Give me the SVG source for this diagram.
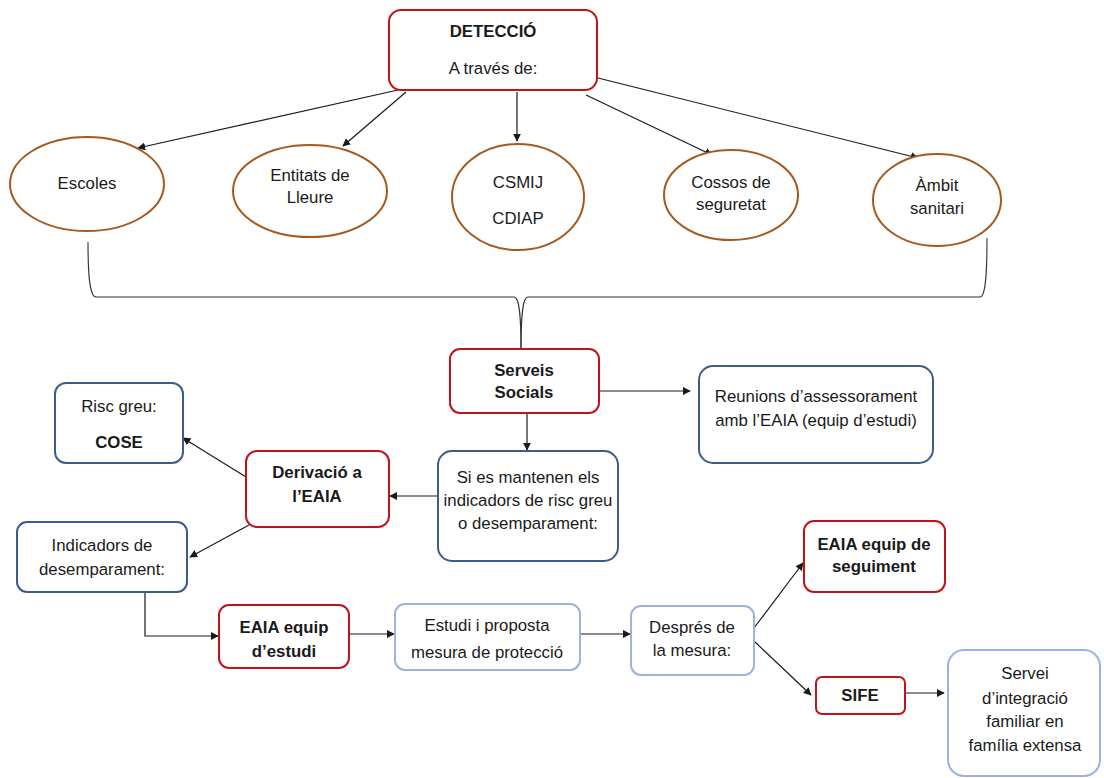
<svg xmlns="http://www.w3.org/2000/svg" width="1104" height="778" viewBox="0 0 1104 778">
  <style>
    text { font-family: "Liberation Sans", Arial, sans-serif; font-size: 16.8px; fill: #1a1a1a; text-anchor: middle; }
    .b { font-weight: bold; }
    .red { fill: #fff; stroke: #C0141C; stroke-width: 2; }
    .blue { fill: #fff; stroke: #3E5B8E; stroke-width: 2; }
    .light { fill: #fff; stroke: #9BB3DD; stroke-width: 2; }
    .oval { fill: #fff; stroke: #A5591F; stroke-width: 2; }
    .edge { fill: none; stroke: #1a1a1a; stroke-width: 1.2; }
    .brace { fill: none; stroke: #333; stroke-width: 1.1; }
  </style>
  <defs>
    <marker id="arrow" viewBox="0 0 10 10" refX="9" refY="5" markerWidth="8" markerHeight="8" markerUnits="userSpaceOnUse" orient="auto">
      <path d="M0,0 L10,5 L0,10 z" fill="#1a1a1a"/>
    </marker>
  </defs>
  <rect width="1104" height="778" fill="#fff"/>

  <!-- connectors -->
  <g id="connectors">
    <line class="edge" x1="398" y1="90" x2="138" y2="148" marker-end="url(#arrow)"/>
    <line class="edge" x1="406" y1="92" x2="343" y2="146" marker-end="url(#arrow)"/>
    <line class="edge" x1="517" y1="92" x2="517" y2="141" marker-end="url(#arrow)"/>
    <line class="edge" x1="586" y1="95" x2="712" y2="155" marker-end="url(#arrow)"/>
    <line class="edge" x1="598" y1="78" x2="918" y2="158" marker-end="url(#arrow)"/>
    <!-- brace gathering the five sources into Serveis Socials -->
    <path class="brace" d="M88,242 C88,270 89,297 96,297 L514,297 C519,297 521,312 521,350"/>
    <path class="brace" d="M521,350 C521,312 523,297 528,297 L980,297 C986,297 987,270 987,238"/>
    <line class="edge" x1="599" y1="391" x2="690" y2="391" marker-end="url(#arrow)"/>
    <line class="edge" x1="527" y1="413" x2="527" y2="450" marker-end="url(#arrow)"/>
    <line class="edge" x1="438" y1="496" x2="390" y2="496" marker-end="url(#arrow)"/>
    <line class="edge" x1="246" y1="477" x2="183" y2="438" marker-end="url(#arrow)"/>
    <line class="edge" x1="249" y1="525" x2="190" y2="557" marker-end="url(#arrow)"/>
    <polyline class="edge" points="145,592 145,636 218,636" marker-end="url(#arrow)"/>
    <line class="edge" x1="349" y1="634" x2="394" y2="634" marker-end="url(#arrow)"/>
    <line class="edge" x1="580" y1="634" x2="630" y2="634" marker-end="url(#arrow)"/>
    <line class="edge" x1="754" y1="628" x2="803" y2="563" marker-end="url(#arrow)"/>
    <line class="edge" x1="754" y1="641" x2="811" y2="695" marker-end="url(#arrow)"/>
    <line class="edge" x1="905" y1="693" x2="944" y2="693" marker-end="url(#arrow)"/>
  </g>

  <g id="deteccio">
    <rect class="red" x="389" y="10" width="208" height="80" rx="12"/>
    <text class="b" x="493" y="37">DETECCIÓ</text>
    <text x="493" y="74">A través de:</text>
  </g>

  <g id="escoles">
    <ellipse class="oval" cx="87" cy="184" rx="77" ry="47"/>
    <text x="87" y="189">Escoles</text>
  </g>
  <g id="entitats">
    <ellipse class="oval" cx="310" cy="191" rx="77" ry="46"/>
    <text x="310" y="181">Entitats de</text>
    <text x="310" y="203">Lleure</text>
  </g>
  <g id="csmij">
    <ellipse class="oval" cx="518" cy="197" rx="66" ry="53"/>
    <text x="518" y="188">CSMIJ</text>
    <text x="518" y="224">CDIAP</text>
  </g>
  <g id="cossos">
    <ellipse class="oval" cx="731" cy="195" rx="67" ry="45"/>
    <text x="731" y="188">Cossos de</text>
    <text x="731" y="210">seguretat</text>
  </g>
  <g id="ambit">
    <ellipse class="oval" cx="937" cy="200" rx="64" ry="46"/>
    <text x="937" y="191">Àmbit</text>
    <text x="937" y="214">sanitari</text>
  </g>

  <g id="serveis-socials">
    <rect class="red" x="450" y="349" width="149" height="64" rx="10"/>
    <text class="b" x="524" y="376">Serveis</text>
    <text class="b" x="524" y="398">Socials</text>
  </g>
  <g id="reunions">
    <rect class="blue" x="699" y="366" width="234" height="97" rx="14"/>
    <text x="816" y="402">Reunions d’assessorament</text>
    <text x="816" y="426">amb l’EAIA (equip d’estudi)</text>
  </g>
  <g id="si-es-mantenen">
    <rect class="blue" x="438" y="451" width="180" height="110" rx="14"/>
    <text x="528" y="483">Si es mantenen els</text>
    <text x="528" y="506">indicadors de risc greu</text>
    <text x="528" y="529">o desemparament:</text>
  </g>
  <g id="derivacio">
    <rect class="red" x="246" y="451" width="143" height="76" rx="11"/>
    <text class="b" x="317" y="478">Derivació a</text>
    <text class="b" x="317" y="502">l’EAIA</text>
  </g>
  <g id="risc-greu">
    <rect class="blue" x="55" y="383" width="128" height="80" rx="11"/>
    <text x="119" y="412">Risc greu:</text>
    <text class="b" x="119" y="448">COSE</text>
  </g>
  <g id="indicadors">
    <rect class="blue" x="17" y="522" width="170" height="70" rx="10"/>
    <text x="102" y="551">Indicadors de</text>
    <text x="102" y="575">desemparament:</text>
  </g>
  <g id="eaia-estudi">
    <rect class="red" x="219" y="605" width="130" height="63" rx="10"/>
    <text class="b" x="284" y="633">EAIA equip</text>
    <text class="b" x="284" y="657">d’estudi</text>
  </g>
  <g id="estudi-proposta">
    <rect class="light" x="395" y="604" width="185" height="66" rx="10"/>
    <text x="487" y="631">Estudi i proposta</text>
    <text x="487" y="658">mesura de protecció</text>
  </g>
  <g id="despres">
    <rect class="light" x="631" y="606" width="123" height="69" rx="10"/>
    <text x="692" y="633">Després de</text>
    <text x="692" y="656">la mesura:</text>
  </g>
  <g id="eaia-seguiment">
    <rect class="red" x="804" y="521" width="141" height="71" rx="10"/>
    <text class="b" x="874" y="550">EAIA equip de</text>
    <text class="b" x="874" y="572">seguiment</text>
  </g>
  <g id="sife">
    <rect class="red" x="816" y="677" width="89" height="37" rx="6"/>
    <text class="b" x="860" y="701">SIFE</text>
  </g>
  <g id="servei-integracio">
    <rect class="light" x="948" y="650" width="152" height="126" rx="16"/>
    <text x="1025" y="679">Servei</text>
    <text x="1025" y="704">d’integració</text>
    <text x="1025" y="727">familiar en</text>
    <text x="1025" y="751">família extensa</text>
  </g>
</svg>
